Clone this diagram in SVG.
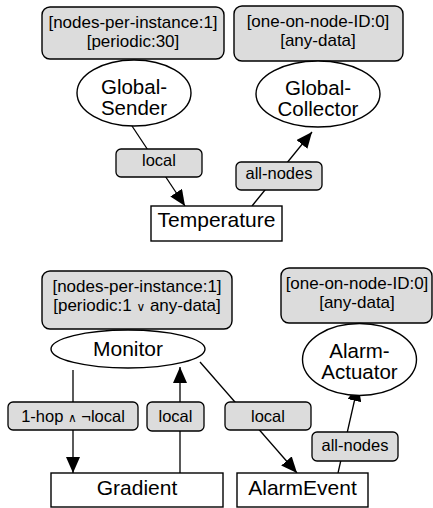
<svg xmlns="http://www.w3.org/2000/svg" width="433" height="508" viewBox="0 0 433 508">
<style>
text{font-family:"Liberation Sans",Arial,sans-serif;fill:#000;text-anchor:middle}
.ann{fill:#dcdcdc;stroke:#000;stroke-width:1.4}
.nt{font-size:21px}
.nt2{font-size:20.5px}
.at{font-size:17px}
.lt{font-size:16.5px}
.sym{font-size:12px;font-family:"DejaVu Sans",sans-serif}
.node{fill:#fff;stroke:#000;stroke-width:1.4}
.edge{stroke:#000;stroke-width:1.3;fill:none;marker-end:url(#ah)}
.lbl{fill:#dcdcdc;stroke:#000;stroke-width:1.3}
</style>
<defs>
<marker id="ah" markerUnits="userSpaceOnUse" viewBox="0 0 16 14" markerWidth="16" markerHeight="14" refX="16" refY="7" orient="auto">
<path d="M0,0 L16,7 L0,14 z" fill="#000"/>
</marker>
</defs>
<rect width="433" height="508" fill="#fff"/>
<g id="connectors">
<line class="edge" x1="132" y1="126" x2="185" y2="206"/>
<line class="edge" x1="252" y1="206" x2="312" y2="132"/>
<line class="edge" x1="73" y1="370" x2="73" y2="473"/>
<line class="edge" x1="180" y1="473" x2="180" y2="367"/>
<line class="edge" x1="200" y1="362" x2="297" y2="473"/>
<line class="edge" x1="338" y1="473" x2="358" y2="385"/>
<g id="lbl-local1"><rect class="lbl" x="116" y="149" width="86" height="28" rx="5"/><text class="lt" x="159" y="166">local</text></g>
<g id="lbl-allnodes1"><rect class="lbl" x="236" y="162" width="86" height="28" rx="5"/><text class="lt" x="279" y="179">all-nodes</text></g>
<g id="lbl-1hop"><rect class="lbl" x="8" y="402" width="130" height="28" rx="5"/><text class="lt" x="73" y="422">1-hop <tspan class="sym">∧</tspan> ¬local</text></g>
<g id="lbl-local2"><rect class="lbl" x="147" y="402" width="57" height="29" rx="5"/><text class="lt" x="175.5" y="422">local</text></g>
<g id="lbl-local3"><rect class="lbl" x="225" y="402" width="86" height="28" rx="5"/><text class="lt" x="268" y="422">local</text></g>
<g id="lbl-allnodes2"><rect class="lbl" x="312" y="432" width="86" height="29" rx="5"/><text class="lt" x="355" y="451">all-nodes</text></g>
</g>
<g id="ann-sender"><rect class="ann" x="42" y="7" width="182" height="52" rx="8"/><text class="at" x="133" y="27.5">[nodes-per-instance:1]</text><text class="at" x="133" y="47">[periodic:30]</text></g>
<g id="ann-collector"><rect class="ann" x="234" y="6" width="169" height="55" rx="8"/><text class="at" x="318" y="27">[one-on-node-ID:0]</text><text class="at" x="318" y="46">[any-data]</text></g>
<g id="global-sender"><ellipse class="node" cx="134" cy="93" rx="57" ry="33"/><text class="nt2" x="134" y="93.5">Global-</text><text class="nt2" x="134" y="115">Sender</text></g>
<g id="global-collector"><ellipse class="node" cx="318" cy="94" rx="62" ry="33"/><text class="nt2" x="318" y="94.5">Global-</text><text class="nt2" x="318" y="116">Collector</text></g>
<g id="temperature"><rect class="node" x="151" y="206" width="131" height="35"/><text class="nt" x="216.5" y="227">Temperature</text></g>
<g id="ann-monitor"><rect class="ann" x="42" y="271" width="190" height="58" rx="8"/><text class="at" x="137" y="292">[nodes-per-instance:1]</text><text class="at" x="137" y="311">[periodic:1 <tspan class="sym">∨</tspan> any-data]</text></g>
<g id="ann-actuator"><rect class="ann" x="281" y="268" width="151" height="55" rx="8"/><text class="at" x="357" y="289">[one-on-node-ID:0]</text><text class="at" x="357" y="308">[any-data]</text></g>
<g id="monitor"><ellipse class="node" cx="128" cy="349" rx="77" ry="19"/><text class="nt" x="128" y="356">Monitor</text></g>
<g id="alarm-actuator"><ellipse class="node" cx="359.5" cy="359.5" rx="57" ry="36"/><text class="nt2" x="359.5" y="357.5">Alarm-</text><text class="nt2" x="359.5" y="379">Actuator</text></g>
<g id="gradient"><rect class="node" x="51" y="473" width="172" height="34"/><text class="nt" x="137" y="495">Gradient</text></g>
<g id="alarmevent"><rect class="node" x="237" y="473" width="131" height="34"/><text class="nt" x="302.5" y="495">AlarmEvent</text></g>
</svg>
